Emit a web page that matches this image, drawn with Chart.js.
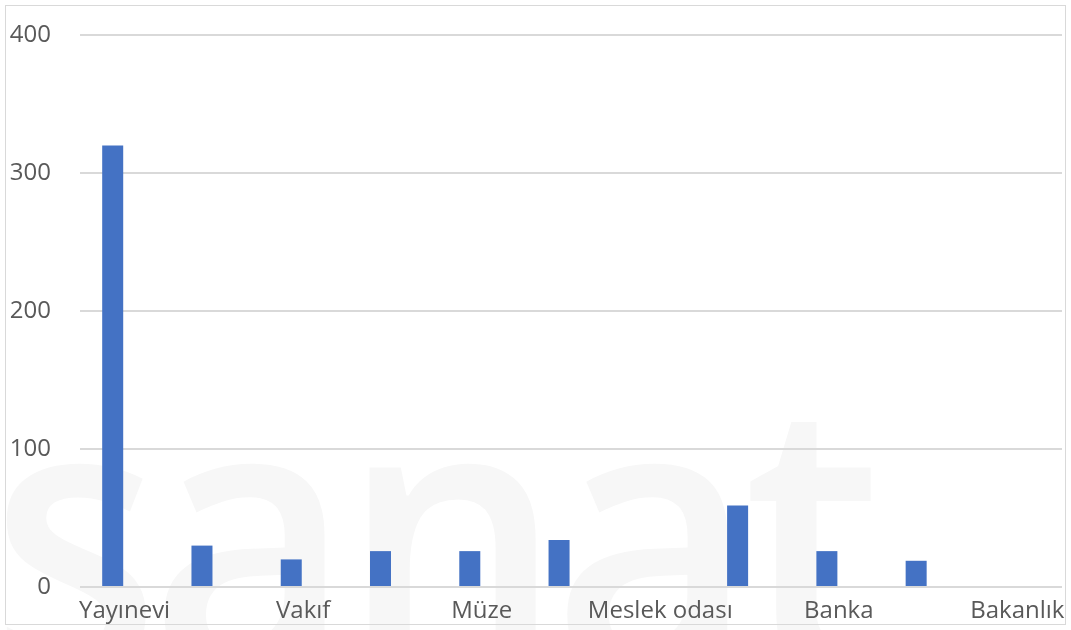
<!DOCTYPE html>
<html lang="tr">
<head>
<meta charset="utf-8">
<script src="https://cdn.jsdelivr.net/npm/chart.js@4"></script>
<style>
    html, body { margin: 0; padding: 0; background: #fff; }
    #wrap { position: relative; width: 1071px; height: 630px; overflow: hidden; }
    #frame { position: absolute; left: 5px; top: 5px; width: 1061px; height: 620px; border: 1px solid #d9d9d9; box-sizing: border-box; }
    #mark {
        position: absolute; left: -10px; top: 336px;
        font-family: "Open Sans", sans-serif; font-weight: 600; font-size: 380px; line-height: 1;
        color: #f7f7f7; letter-spacing: -12px; white-space: nowrap;
        transform: scaleX(0.92); transform-origin: left top;
    }
    #chart { position: absolute; left: 0; top: 0; }
</style>
</head>
<body>
<div id="wrap">
    <div id="mark">sanat</div>
    <div id="frame"></div>
    <canvas id="chart" width="1071" height="630"></canvas>
</div>
<script>
// Categories (every other label is hidden in the original, unreadable ones left blank)
const categories = ['Yayınevi', '', 'Vakıf', '', 'Müze', '', 'Meslek odası', '', 'Banka', '', 'Bakanlık'];
const mainValues = [320, 30, 20, 26, 26, 34, 0, 59, 26, 19, 0];
const emptyValues = [null, null, null, null, null, null, null, null, null, null, null];
const yTicks = [0, 100, 200, 300, 400];

const textColor = '#595959';
const gridColor = '#d9d9d9';
const font = { family: '"Open Sans", sans-serif', size: 24 };

new Chart(document.getElementById('chart'), {
    type: 'bar',
    data: {
        labels: categories,
        datasets: [
            {
                label: 'Seri 1',
                data: mainValues,
                backgroundColor: '#4472C4',
                categoryPercentage: 0.535,
                barPercentage: 0.88
            },
            {
                label: 'Seri 2',
                data: emptyValues,
                backgroundColor: '#ED7D31',
                categoryPercentage: 0.535,
                barPercentage: 0.88
            }
        ]
    },
    options: {
        responsive: false,
        animation: false,
        layout: { padding: { top: 35, right: 9, left: 0, bottom: 0 } },
        plugins: {
            legend: { display: false },
            tooltip: { enabled: false }
        },
        scales: {
            x: {
                grid: { display: false, drawTicks: false },
                border: { display: false },
                ticks: {
                    color: textColor,
                    font: font,
                    padding: 10,
                    autoSkip: false,
                    maxRotation: 0,
                    callback: (v, i) => categories[i]
                },
                afterFit: (scale) => {
                    scale.height = 43;
                    scale.paddingRight = 0;
                }
            },
            y: {
                min: 0,
                max: 400,
                afterBuildTicks: (scale) => { scale.ticks = yTicks.map(v => ({ value: v })); },
                grid: { color: gridColor, lineWidth: 2, drawTicks: false },
                border: { display: false },
                ticks: {
                    color: textColor,
                    font: font,
                    padding: 29
                },
                afterFit: (scale) => {
                    scale.width = 80;
                    scale.paddingTop = 0;
                    scale.paddingBottom = 0;
                }
            }
        }
    }
});
</script>
</body>
</html>
